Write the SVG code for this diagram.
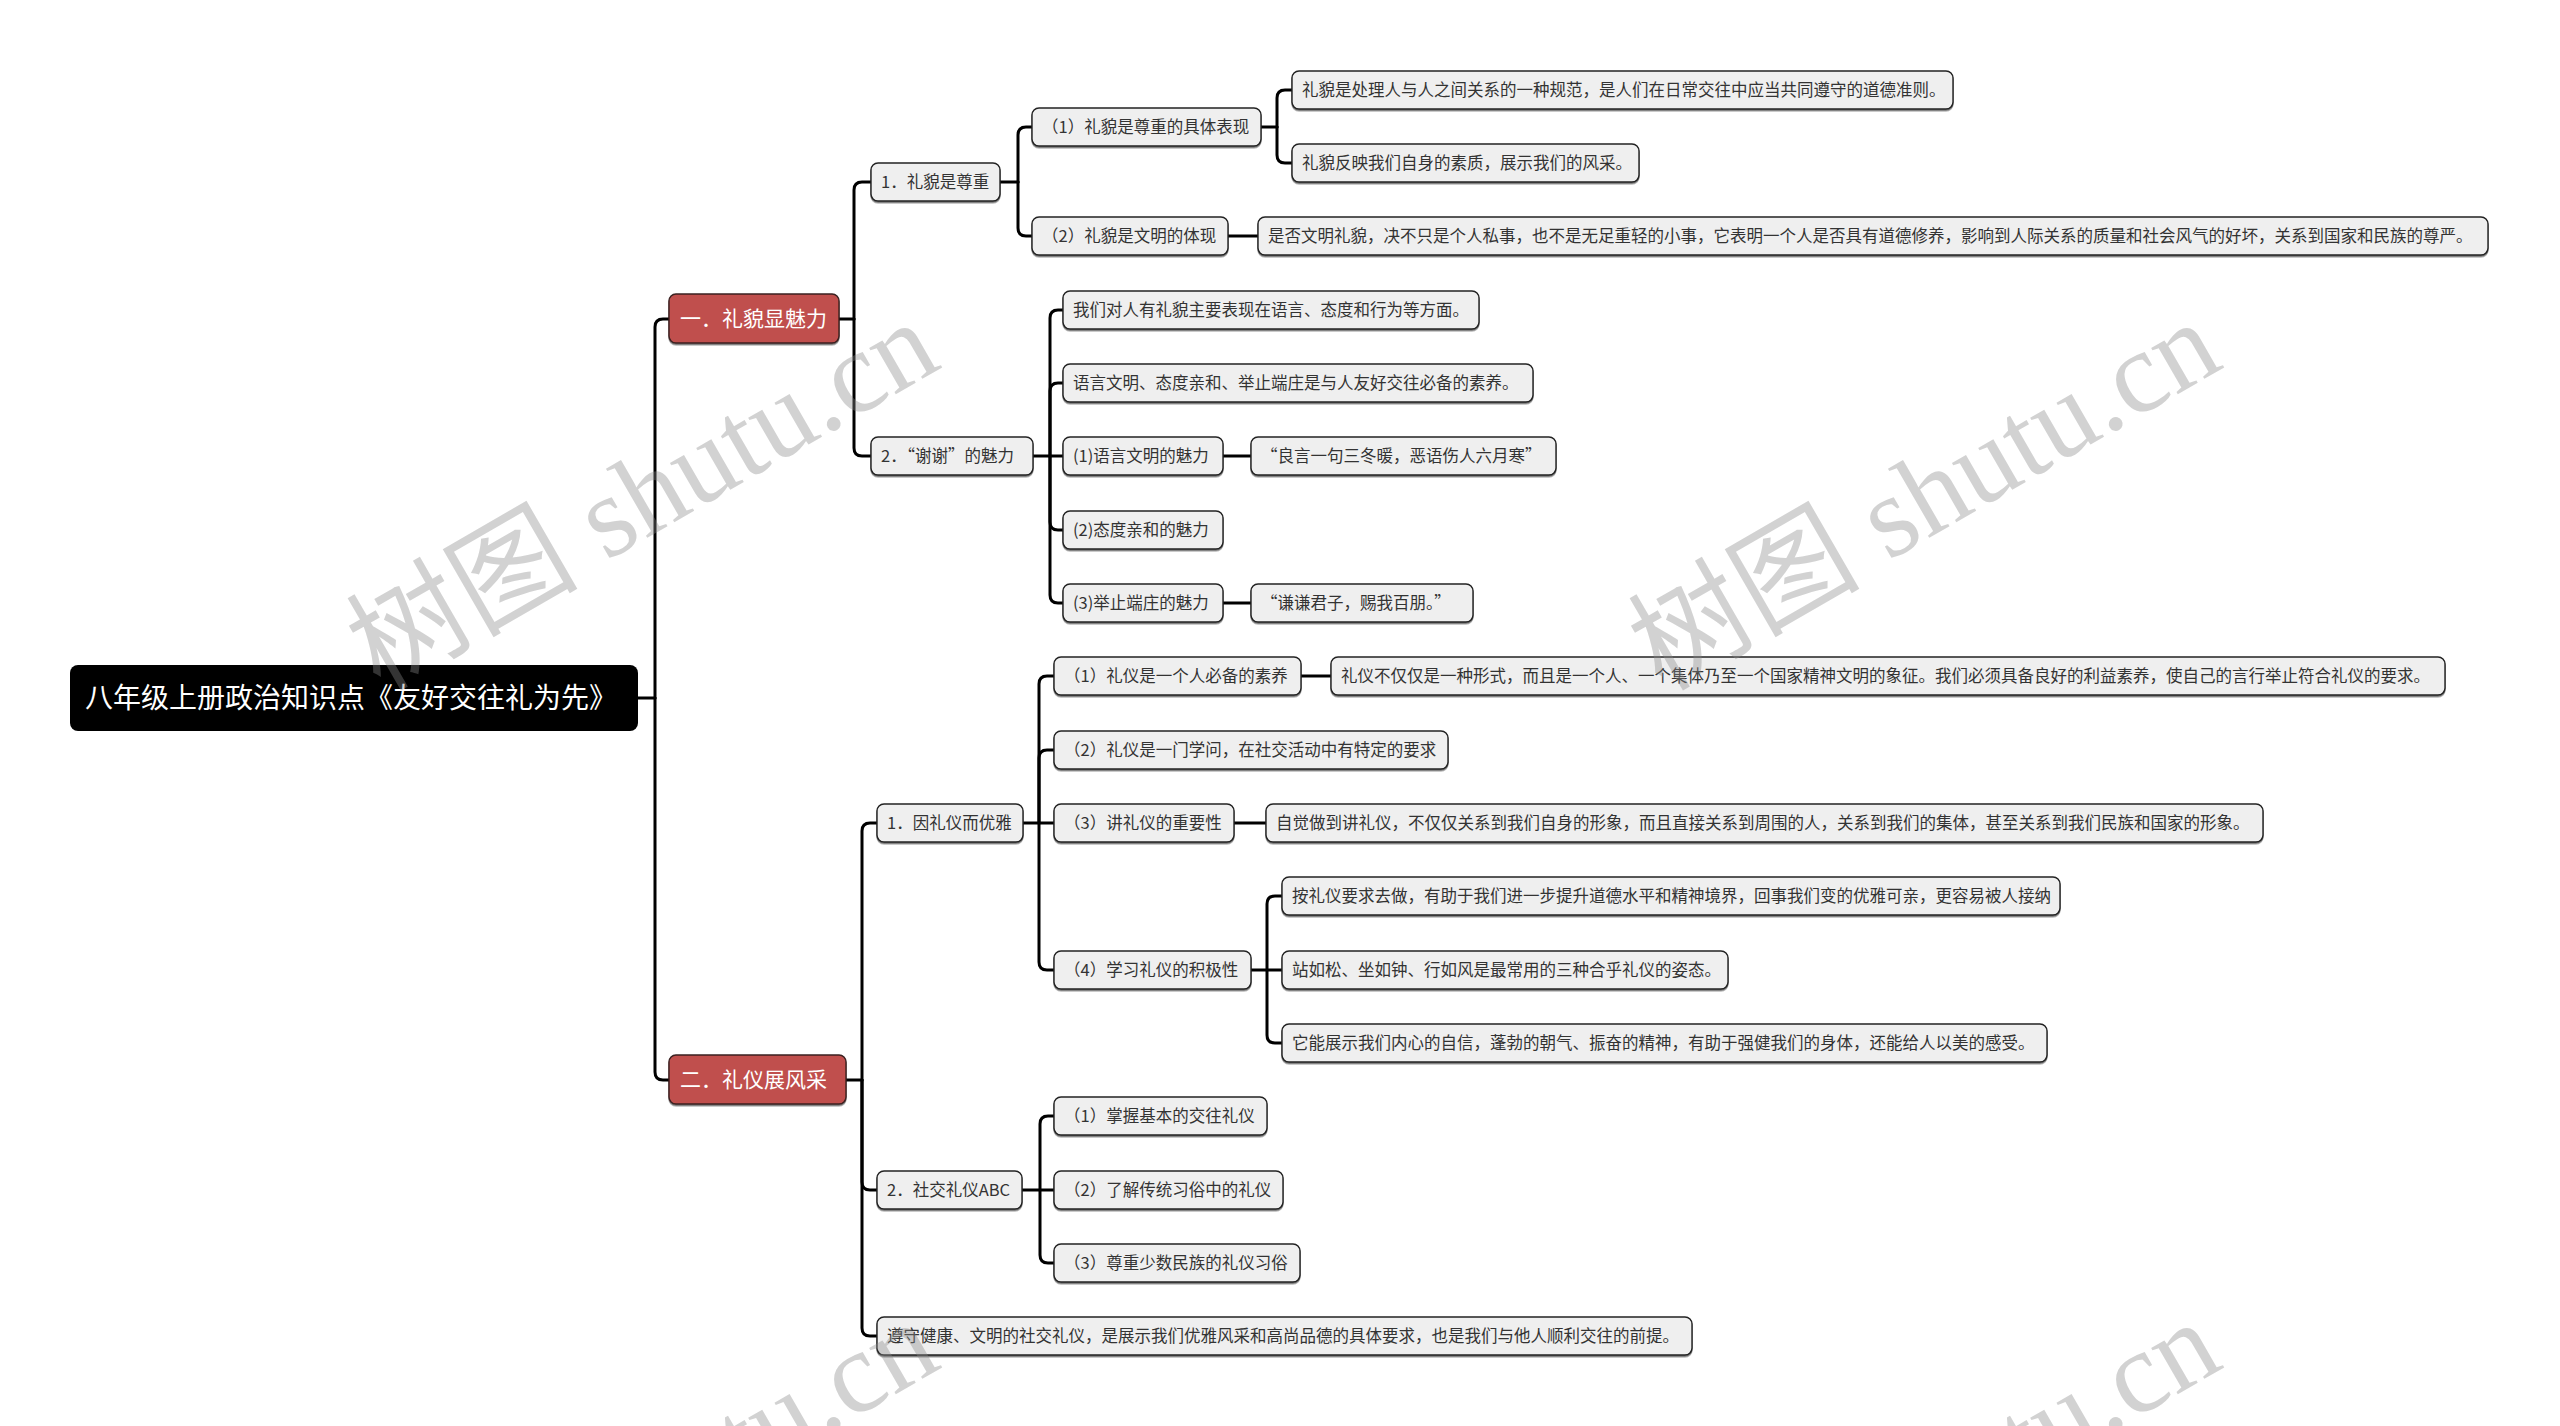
<svg xmlns="http://www.w3.org/2000/svg" width="2560" height="1426" viewBox="0 0 2560 1426">
<style>
.n rect{fill:#efefef;stroke:#222;stroke-width:1.4;filter:url(#sh)}
.n text{font-family:"Noto Sans CJK SC","Microsoft YaHei",sans-serif;font-size:16.5px;fill:#333}
.r rect{fill:#c0504d;stroke:#3a2020;stroke-width:1.4;filter:url(#sh)}
.r text{font-family:"Noto Sans CJK SC",sans-serif;font-size:21px;fill:#fff}
.root rect{fill:#000}
.root text{font-family:"Noto Sans CJK SC",sans-serif;font-size:28px;fill:#fff}
#connectors path{fill:none;stroke:#000;stroke-width:3;stroke-linecap:round}
.wm{font-family:"Liberation Serif","Noto Sans CJK SC",serif;font-size:116px;fill:#8a8a8a;fill-opacity:0.38}
</style>
<defs>
<filter id="sh" x="-5%" y="-20%" width="110%" height="150%">
<feDropShadow dx="0" dy="1.5" stdDeviation="0.6" flood-color="#000" flood-opacity="0.55"/>
</filter>
</defs>
<rect width="2560" height="1426" fill="#fff"/>
<g id="connectors">
<path d="M638,698 H655"/>
<path d="M655,698 V327 Q655,319 663,319 H669"/>
<path d="M655,698 V1072 Q655,1080 663,1080 H669"/>
<path d="M839,319 H854"/>
<path d="M854,319 V190 Q854,182 862,182 H871"/>
<path d="M854,319 V448 Q854,456 862,456 H871"/>
<path d="M1000,182 H1018"/>
<path d="M1018,182 V135 Q1018,127 1026,127 H1032"/>
<path d="M1018,182 V228 Q1018,236 1026,236 H1032"/>
<path d="M1261,127 H1277"/>
<path d="M1277,127 V98 Q1277,90 1285,90 H1292"/>
<path d="M1277,127 V155 Q1277,163 1285,163 H1292"/>
<path d="M1228,236 H1258"/>
<path d="M1033,456 H1063"/>
<path d="M1050,456 V318 Q1050,310 1058,310 H1063"/>
<path d="M1050,456 V391 Q1050,383 1058,383 H1063"/>
<path d="M1050,456 V522 Q1050,530 1058,530 H1063"/>
<path d="M1050,456 V595 Q1050,603 1058,603 H1063"/>
<path d="M1223,456 H1251"/>
<path d="M1223,603 H1251"/>
<path d="M846,1080 H862"/>
<path d="M862,1080 V831 Q862,823 870,823 H877"/>
<path d="M862,1080 V1182 Q862,1190 870,1190 H877"/>
<path d="M862,1080 V1328 Q862,1336 870,1336 H877"/>
<path d="M1023,823 H1054"/>
<path d="M1039,823 V684 Q1039,676 1047,676 H1054"/>
<path d="M1039,823 V758 Q1039,750 1047,750 H1054"/>
<path d="M1039,823 V962 Q1039,970 1047,970 H1054"/>
<path d="M1301,676 H1331"/>
<path d="M1234,823 H1266"/>
<path d="M1251,970 H1282"/>
<path d="M1267,970 V904 Q1267,896 1275,896 H1282"/>
<path d="M1267,970 V1035 Q1267,1043 1275,1043 H1282"/>
<path d="M1022,1190 H1054"/>
<path d="M1040,1190 V1124 Q1040,1116 1048,1116 H1054"/>
<path d="M1040,1190 V1255 Q1040,1263 1048,1263 H1054"/>
</g>
<g id="root" class="root"><rect x="70" y="665" width="568" height="66" rx="8"/><text x="85" y="708">八年级上册政治知识点《友好交往礼为先》</text></g>
<g id="s1" class="r"><rect x="669" y="294" width="170" height="49" rx="7"/><text x="680" y="326">一．礼貌显魅力</text></g>
<g id="s2" class="r"><rect x="669" y="1055" width="177" height="49" rx="7"/><text x="680" y="1087">二．礼仪展风采</text></g>
<g id="a1" class="n"><rect x="871" y="163" width="129" height="38" rx="7"/><text x="881" y="188">1．礼貌是尊重</text></g>
<g id="a2" class="n"><rect x="871" y="437" width="162" height="38" rx="7"/><text x="881" y="462">2．“谢谢”的魅力</text></g>
<g id="a1a" class="n"><rect x="1032" y="108" width="229" height="38" rx="7"/><text x="1042" y="133">（1）礼貌是尊重的具体表现</text></g>
<g id="a1b" class="n"><rect x="1032" y="217" width="196" height="38" rx="7"/><text x="1042" y="242">（2）礼貌是文明的体现</text></g>
<g id="a1a1" class="n"><rect x="1292" y="71" width="661" height="38" rx="7"/><text x="1302" y="96">礼貌是处理人与人之间关系的一种规范，是人们在日常交往中应当共同遵守的道德准则。</text></g>
<g id="a1a2" class="n"><rect x="1292" y="144" width="347" height="38" rx="7"/><text x="1302" y="169">礼貌反映我们自身的素质，展示我们的风采。</text></g>
<g id="a1b1" class="n"><rect x="1258" y="217" width="1230" height="38" rx="7"/><text x="1268" y="242">是否文明礼貌，决不只是个人私事，也不是无足重轻的小事，它表明一个人是否具有道德修养，影响到人际关系的质量和社会风气的好坏，关系到国家和民族的尊严。</text></g>
<g id="a2a" class="n"><rect x="1063" y="291" width="416" height="38" rx="7"/><text x="1073" y="316">我们对人有礼貌主要表现在语言、态度和行为等方面。</text></g>
<g id="a2b" class="n"><rect x="1063" y="364" width="470" height="38" rx="7"/><text x="1073" y="389">语言文明、态度亲和、举止端庄是与人友好交往必备的素养。</text></g>
<g id="a2c" class="n"><rect x="1063" y="437" width="160" height="38" rx="7"/><text x="1073" y="462">(1)语言文明的魅力</text></g>
<g id="a2c1" class="n"><rect x="1251" y="437" width="305" height="38" rx="7"/><text x="1261" y="462">“良言一句三冬暖，恶语伤人六月寒”</text></g>
<g id="a2d" class="n"><rect x="1063" y="511" width="160" height="38" rx="7"/><text x="1073" y="536">(2)态度亲和的魅力</text></g>
<g id="a2e" class="n"><rect x="1063" y="584" width="160" height="38" rx="7"/><text x="1073" y="609">(3)举止端庄的魅力</text></g>
<g id="a2e1" class="n"><rect x="1251" y="584" width="222" height="38" rx="7"/><text x="1261" y="609">“谦谦君子，赐我百朋。”</text></g>
<g id="b1" class="n"><rect x="877" y="804" width="146" height="38" rx="7"/><text x="887" y="829">1．因礼仪而优雅</text></g>
<g id="b2" class="n"><rect x="877" y="1171" width="145" height="38" rx="7"/><text x="887" y="1196">2．社交礼仪ABC</text></g>
<g id="b3" class="n"><rect x="877" y="1317" width="815" height="38" rx="7"/><text x="887" y="1342">遵守健康、文明的社交礼仪，是展示我们优雅风采和高尚品德的具体要求，也是我们与他人顺利交往的前提。</text></g>
<g id="b1a" class="n"><rect x="1054" y="657" width="247" height="38" rx="7"/><text x="1064" y="682">（1）礼仪是一个人必备的素养</text></g>
<g id="b1a1" class="n"><rect x="1331" y="657" width="1114" height="38" rx="7"/><text x="1341" y="682">礼仪不仅仅是一种形式，而且是一个人、一个集体乃至一个国家精神文明的象征。我们必须具备良好的利益素养，使自己的言行举止符合礼仪的要求。</text></g>
<g id="b1b" class="n"><rect x="1054" y="731" width="394" height="38" rx="7"/><text x="1064" y="756">（2）礼仪是一门学问，在社交活动中有特定的要求</text></g>
<g id="b1c" class="n"><rect x="1054" y="804" width="180" height="38" rx="7"/><text x="1064" y="829">（3）讲礼仪的重要性</text></g>
<g id="b1c1" class="n"><rect x="1266" y="804" width="997" height="38" rx="7"/><text x="1276" y="829">自觉做到讲礼仪，不仅仅关系到我们自身的形象，而且直接关系到周围的人，关系到我们的集体，甚至关系到我们民族和国家的形象。</text></g>
<g id="b1d" class="n"><rect x="1054" y="951" width="197" height="38" rx="7"/><text x="1064" y="976">（4）学习礼仪的积极性</text></g>
<g id="b1d1" class="n"><rect x="1282" y="877" width="778" height="38" rx="7"/><text x="1292" y="902">按礼仪要求去做，有助于我们进一步提升道德水平和精神境界，回事我们变的优雅可亲，更容易被人接纳</text></g>
<g id="b1d2" class="n"><rect x="1282" y="951" width="446" height="38" rx="7"/><text x="1292" y="976">站如松、坐如钟、行如风是最常用的三种合乎礼仪的姿态。</text></g>
<g id="b1d3" class="n"><rect x="1282" y="1024" width="765" height="38" rx="7"/><text x="1292" y="1049">它能展示我们内心的自信，蓬勃的朝气、振奋的精神，有助于强健我们的身体，还能给人以美的感受。</text></g>
<g id="b2a" class="n"><rect x="1054" y="1097" width="213" height="38" rx="7"/><text x="1064" y="1122">（1）掌握基本的交往礼仪</text></g>
<g id="b2b" class="n"><rect x="1054" y="1171" width="229" height="38" rx="7"/><text x="1064" y="1196">（2）了解传统习俗中的礼仪</text></g>
<g id="b2c" class="n"><rect x="1054" y="1244" width="246" height="38" rx="7"/><text x="1064" y="1269">（3）尊重少数民族的礼仪习俗</text></g>
<g id="watermark">
<text class="wm" transform="translate(380,692) rotate(-30)">树图 shutu.cn</text>
<text class="wm" transform="translate(1662,692) rotate(-30)">树图 shutu.cn</text>
<text class="wm" transform="translate(380,1692) rotate(-30)">树图 shutu.cn</text>
<text class="wm" transform="translate(1662,1692) rotate(-30)">树图 shutu.cn</text>
</g>
</svg>
